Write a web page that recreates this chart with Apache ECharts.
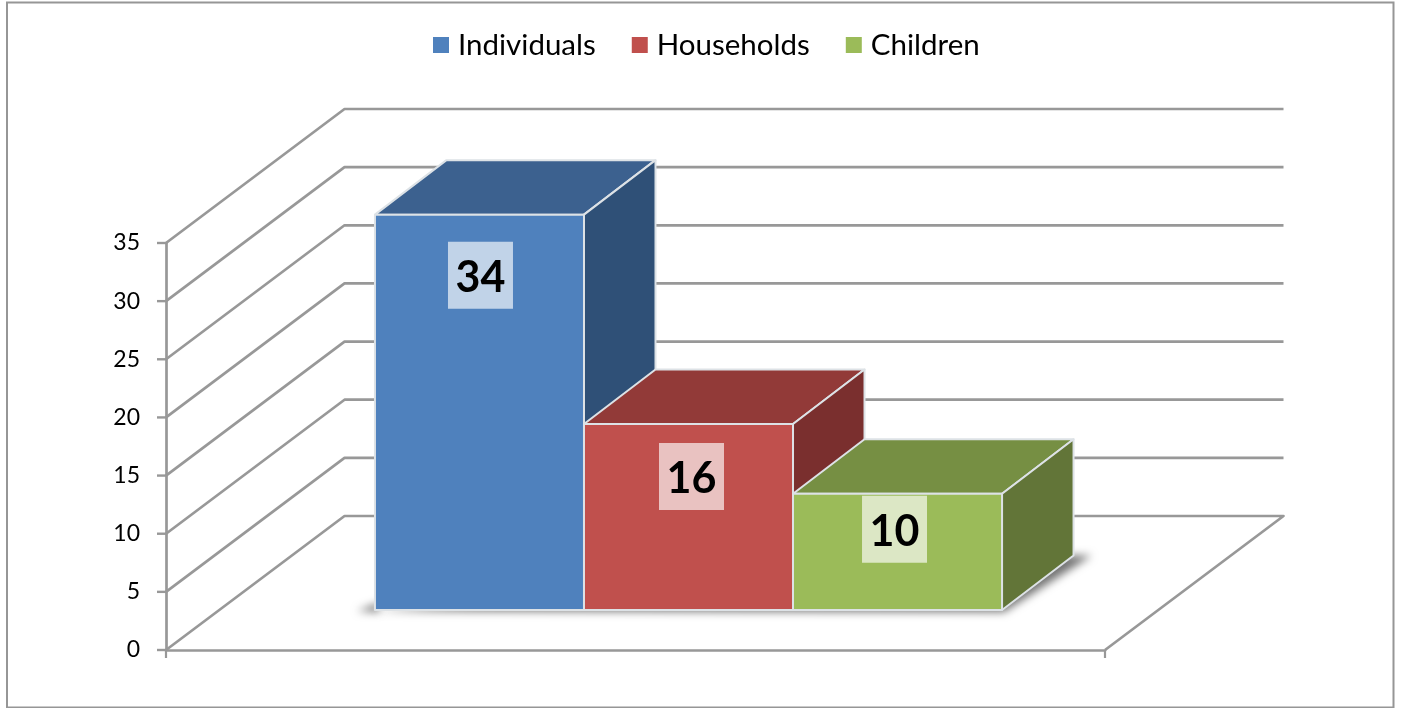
<!DOCTYPE html>
<html>
<head>
<meta charset="utf-8">
<style>html,body{margin:0;padding:0;background:#fff}#c{width:1401px;height:708px}</style>
<script src="https://cdn.jsdelivr.net/npm/echarts@6/dist/echarts.min.js"></script>
</head>
<body>
<div id="c"></div>
<script>
const categories = [''];
const individuals = [34];
const households = [16];
const children = [10];
const yTicks = [0, 5, 10, 15, 20, 25, 30, 35];

const FONT = 'Lato';
const GRID_COL = '#989898';
const WALL = {dx: 178.5, dy: -134};
const BAR = {dx: 71.5, dy: -54.5, shiftX: 53, shiftY: -40, ratio: 0.2226};
const EDGE = '#dde2e6';
const SHADOW_SHIFT = 3000;
const PALETTE = [
  {front: '#4F81BD', top: '#3C618F', side: '#2F5077', lx: 1, ly: 60.5},
  {front: '#C0504D', top: '#923A38', side: '#7A2F2E', lx: 3, ly: 52.5},
  {front: '#9BBB59', top: '#768F43', side: '#627538', lx: -3, ly: 35.5}
];

function wallItem(params, api) {
  const g = params.coordSys;
  const v = api.value(0);
  const y = api.coord([0, v])[1];
  const x0 = g.x, x1 = g.x + g.width;
  const style = {stroke: GRID_COL, lineWidth: 2.7, fill: null, lineJoin: 'round'};
  const pts = [[x0, y], [x0 + WALL.dx, y + WALL.dy], [x1 + WALL.dx, y + WALL.dy]];
  if (v === 0) pts.push([x1, y]);
  return {type: 'group', children: [
    {type: 'polyline', shape: {points: pts}, style: style, silent: true},
    {type: 'polyline', shape: {points: [[x0 - 9, y], [x0, y]]}, style: {stroke: GRID_COL, lineWidth: 2.4, fill: null}, silent: true}
  ]};
}

function barItem(i) {
  return function (params, api) {
    const g = params.coordSys;
    const c = PALETTE[i];
    const w = g.width * BAR.ratio;
    const base = api.coord([api.value(0), 0]);
    const top = api.coord([api.value(0), api.value(1)]);
    const l = base[0] + BAR.shiftX + (i - 1.5) * w;
    const r = l + w;
    const yb = base[1] + BAR.shiftY;
    const yt = top[1] + BAR.shiftY;
    const d = BAR;
    const edge = {stroke: EDGE, lineWidth: 2, lineJoin: 'round'};
    const poly = (pts, fill) => ({type: 'polygon', shape: {points: pts}, style: Object.assign({fill: fill}, edge)});
    const children = [];
    if (i === 0) {
      const span = 3 * w;
      const s = SHADOW_SHIFT;
      const shadow = {fill: '#000', shadowBlur: 8, shadowColor: 'rgba(0,0,0,0.55)', shadowOffsetX: s};
      children.push({
        type: 'polygon',
        shape: {points: [[l - s, yb + 1], [l + span + 2 - s, yb + 2], [l + span + d.dx + 18 - s, yb + d.dy], [l + span + d.dx - 10 - s, yb + d.dy]]},
        style: shadow
      }, {
        type: 'polygon',
        shape: {points: [[l - 18 - s, yb + 1], [l + 4 - s, yb - 7], [l + 4 - s, yb + 2]]},
        style: shadow
      });
    }
    children.push(
      poly([[l, yt], [l + d.dx, yt + d.dy], [r + d.dx, yt + d.dy], [r, yt]], c.top),
      poly([[r, yt], [r + d.dx, yt + d.dy], [r + d.dx, yb + d.dy], [r, yb]], c.side),
      poly([[l, yt], [r, yt], [r, yb], [l, yb]], c.front)
    );
    const cx = (l + r) / 2 + c.lx, cy = yt + c.ly;
    children.push(
      {type: 'rect', shape: {x: cx - 32.5, y: cy - 33.5, width: 65, height: 67}, style: {fill: 'rgba(255,255,255,0.65)'}},
      {type: 'text', x: cx, y: cy + 3, style: {text: String(api.value(1)), fill: '#000', font: 'bold 43px ' + FONT, align: 'center', verticalAlign: 'middle'}}
    );
    return {type: 'group', children: children};
  };
}

const chart = echarts.init(document.getElementById('c'), null, {renderer: 'canvas'});
chart.setOption({
  animation: false,
  backgroundColor: '#fff',
  graphic: [{
    type: 'rect', silent: true, z: 0,
    shape: {x: 7, y: 2.5, width: 1386.5, height: 705},
    style: {fill: null, stroke: '#969696', lineWidth: 2}
  }],
  legend: {
    top: 25, left: 428,
    icon: 'rect', itemWidth: 16, itemHeight: 16, itemGap: 36,
    textStyle: {fontFamily: FONT, fontSize: 29.5, color: '#000', padding: [0, 0, 0, 4]},
    data: ['Individuals', 'Households', 'Children']
  },
  grid: {left: 166, right: 296, top: 243, bottom: 58},
  xAxis: {
    type: 'category', data: categories,
    axisLine: {show: true, lineStyle: {color: GRID_COL, width: 2.7}},
    axisTick: {show: true, length: 8, lineStyle: {color: GRID_COL, width: 2.2}},
    axisLabel: {show: false},
    splitLine: {show: false}
  },
  yAxis: {
    type: 'value', min: 0, max: 35, interval: 5,
    axisLine: {show: true, lineStyle: {color: GRID_COL, width: 2.7}},
    axisTick: {show: false},
    axisLabel: {fontFamily: FONT, fontSize: 23, color: '#000', margin: 26, padding: [3, 0, 0, 0]},
    splitLine: {show: false}
  },
  series: [
    {type: 'custom', coordinateSystem: 'cartesian2d', silent: true, z: 1, clip: false, encode: {x: -1, y: 0}, data: yTicks.map(v => [v]), renderItem: wallItem},
    {type: 'custom', name: 'Individuals', z: 2, itemStyle: {color: PALETTE[0].front}, encode: {x: 0, y: 1}, data: individuals.map((v, k) => [k, v]), renderItem: barItem(0)},
    {type: 'custom', name: 'Households', z: 3, itemStyle: {color: PALETTE[1].front}, encode: {x: 0, y: 1}, data: households.map((v, k) => [k, v]), renderItem: barItem(1)},
    {type: 'custom', name: 'Children', z: 4, itemStyle: {color: PALETTE[2].front}, encode: {x: 0, y: 1}, data: children.map((v, k) => [k, v]), renderItem: barItem(2)}
  ]
});
</script>
</body>
</html>
